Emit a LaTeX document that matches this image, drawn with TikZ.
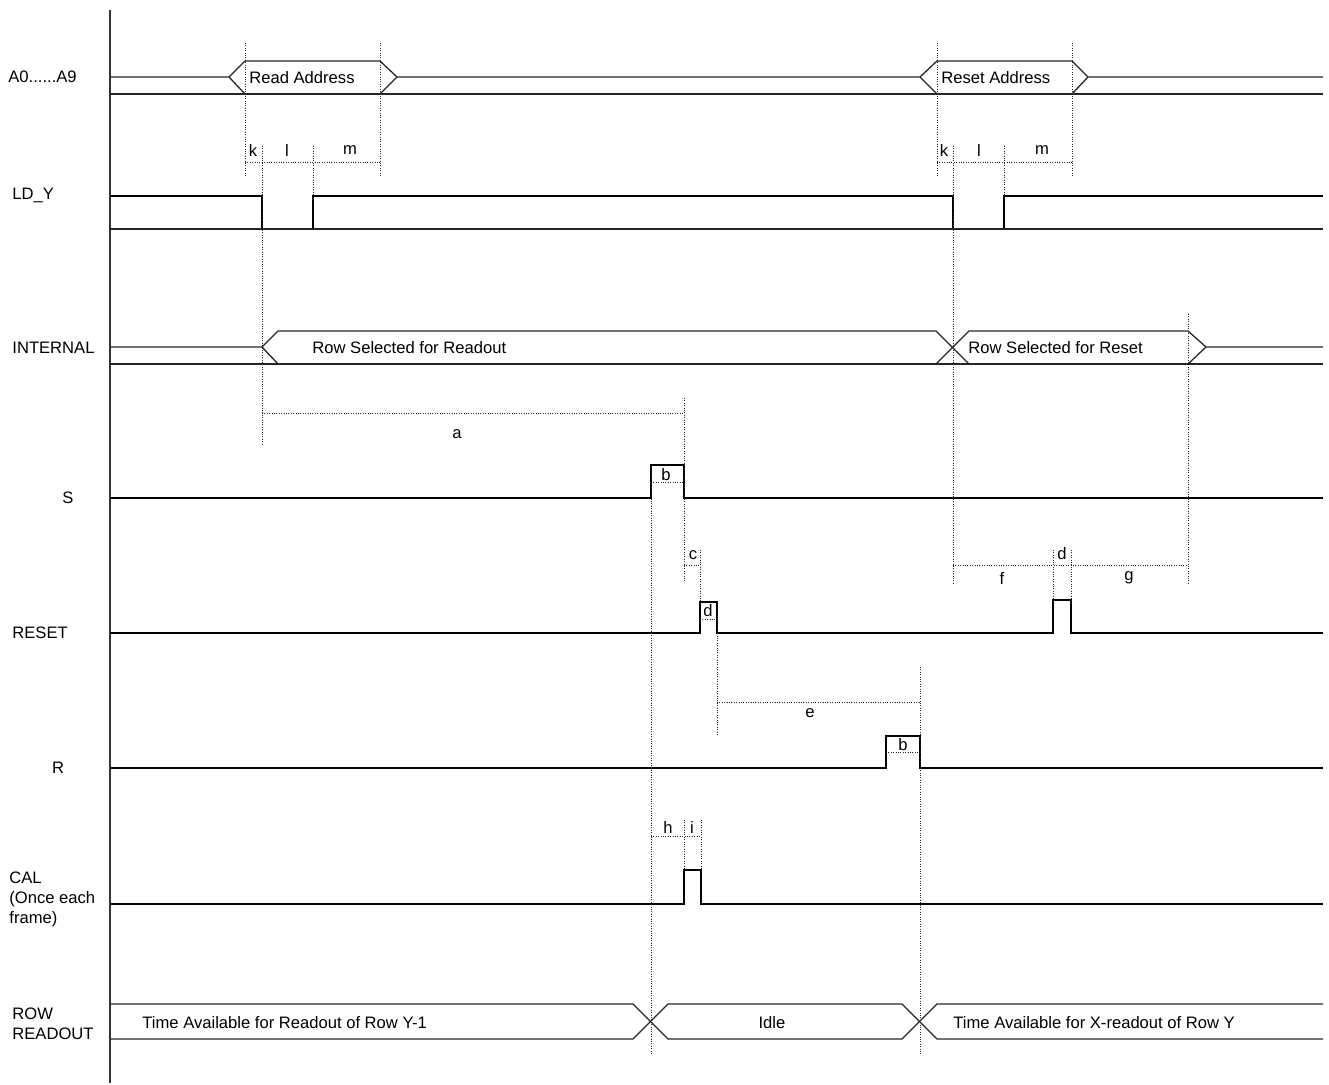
\documentclass[tikz,border=0pt]{standalone}
\usepackage{fontspec}
\setmainfont{Liberation Sans}
\tikzset{
  axisline/.style={line width=1pt, black!80},
  busline/.style={line width=0.65pt, black!85},
  sigline/.style={line width=0.75pt, black},
  dotline/.style={line width=0.5pt, black!85, dash pattern=on 0.5pt off 0.7pt},
  txt/.style={font=\fontsize{8.3}{10}\selectfont, inner sep=0pt},
}
\begin{document}
\begin{tikzpicture}[x=0.5pt,y=-0.5pt]
\useasboundingbox (0,0) rectangle (1329,1085);
% axis
\draw[axisline] (110,10) -- (110,1083);

% ---- signal labels
\node[txt, anchor=west] (lA) at (8,77) {A0......A9};
\node[txt, anchor=west] (lLD) at (12,195) {LD\_Y};
\node[txt, anchor=west] (lINT) at (12,348) {INTERNAL};
\node[txt] (lS) at (68,498) {S};
\node[txt, anchor=west] (lRST) at (12,633) {RESET};
\node[txt] (lR) at (58,768) {R};
\node[txt, anchor=west, align=left] (lCAL) at (9,899) {CAL\\(Once each\\frame)};
\node[txt, anchor=west, align=left] (lROW) at (12,1024) {ROW\\READOUT};

% ---- A0..A9 bus
\draw[busline] (110,77) -- (229,77) -- (245,61) -- (380,61) -- (397,77) -- (920,77) -- (937,61) -- (1072,61) -- (1088,77) -- (1323,77);
\draw[busline] (110,94) -- (1323,94);
\draw[busline] (229,77) -- (245,94);
\draw[busline] (380,94) -- (397,77);
\draw[busline] (920,77) -- (937,94);
\draw[busline] (1072,94) -- (1088,77);
\node[txt, anchor=west] (tRA) at (249,78) {Read Address};
\node[txt, anchor=west] (tRSA) at (941,78) {Reset Address};

% ---- LD_Y
\draw[sigline] (110,196) -- (262,196) -- (262,229) -- (313,229) -- (313,196) -- (953,196) -- (953,229) -- (1004,229) -- (1004,196) -- (1323,196);
\draw[busline] (110,229) -- (1323,229);

% ---- INTERNAL
\draw[busline] (110,347) -- (262,347) -- (278,331) -- (936,331) -- (969,364);
\draw[busline] (262,347) -- (278,364);
\draw[busline] (936,364) -- (969,331) -- (1188,331) -- (1206,347) -- (1323,347);
\draw[busline] (1188,364) -- (1206,347);
\draw[busline] (110,364) -- (1323,364);
\node[txt, anchor=west] (tRSR) at (312,348) {Row Selected for Readout};
\node[txt, anchor=west] (tRSS) at (968,348) {Row Selected for Reset};

% ---- S
\draw[sigline] (110,498) -- (651,498) -- (651,465) -- (684,465) -- (684,498) -- (1323,498);
% ---- RESET
\draw[sigline] (110,633) -- (700,633) -- (700,602) -- (717,602) -- (717,633) -- (1053,633) -- (1053,600) -- (1071,600) -- (1071,633) -- (1323,633);
% ---- R
\draw[sigline] (110,768) -- (886,768) -- (886,736) -- (920,736) -- (920,768) -- (1323,768);
% ---- CAL
\draw[sigline] (110,904) -- (684,904) -- (684,870) -- (701,870) -- (701,904) -- (1323,904);

% ---- ROW READOUT
\draw[busline] (110,1004) -- (633,1004) -- (668,1039) -- (902,1039) -- (937,1004) -- (1323,1004);
\draw[busline] (110,1039) -- (633,1039) -- (668,1004) -- (902,1004) -- (937,1039) -- (1323,1039);
\node[txt, anchor=west] (tTA1) at (142,1023) {Time Available for Readout of Row Y-1};
\node[txt] (tIdle) at (772,1023) {Idle};
\node[txt, anchor=west] (tTA2) at (953,1023) {Time Available for X-readout of Row Y};

% ---- dotted verticals
\draw[dotline] (245,43) -- (245,177);
\draw[dotline] (380,43) -- (380,177);
\draw[dotline] (937,43) -- (937,177);
\draw[dotline] (1072,43) -- (1072,177);
\draw[dotline] (262,146) -- (262,445);
\draw[dotline] (313,146) -- (313,196);
\draw[dotline] (953,146) -- (953,583);
\draw[dotline] (1004,146) -- (1004,196);
\draw[dotline] (1188,314) -- (1188,583);
\draw[dotline] (684,398) -- (684,582);
\draw[dotline] (651,465) -- (651,1055);
\draw[dotline] (700,550) -- (700,602);
\draw[dotline] (717,602) -- (717,735);
\draw[dotline] (920,667) -- (920,1055);
\draw[dotline] (1053,550) -- (1053,600);
\draw[dotline] (1071,550) -- (1071,600);
\draw[dotline] (684,820) -- (684,870);
\draw[dotline] (701,820) -- (701,870);

% ---- dotted horizontals
\draw[dotline] (245,163) -- (380,163);
\draw[dotline] (937,163) -- (1072,163);
\draw[dotline] (262,414) -- (684,414);
\draw[dotline] (651,483) -- (684,483);
\draw[dotline] (684,566) -- (700,566);
\draw[dotline] (700,620) -- (717,620);
\draw[dotline] (953,566) -- (1188,566);
\draw[dotline] (717,702) -- (920,702);
\draw[dotline] (886,752) -- (920,752);
\draw[dotline] (651,836) -- (701,836);

% ---- timing letters
\node[txt] (k1) at (253,150) {k};
\node[txt] (l1) at (287,150) {l};
\node[txt] (m1) at (350,150) {m};
\node[txt] (k2) at (944,150) {k};
\node[txt] (l2) at (979,150) {l};
\node[txt] (m2) at (1042,150) {m};
\node[txt] (ta) at (457,434) {a};
\node[txt] (tb1) at (666,475) {b};
\node[txt] (tc) at (693,555) {c};
\node[txt] (td1) at (708,611) {d};
\node[txt] (td2) at (1062,554) {d};
\node[txt] (tf) at (1002,578) {f};
\node[txt] (tg) at (1129,578) {g};
\node[txt] (te) at (810,713) {e};
\node[txt] (tb2) at (903,745) {b};
\node[txt] (th) at (668,827) {h};
\node[txt] (ti) at (692,827) {i};
\end{tikzpicture}
\end{document}
